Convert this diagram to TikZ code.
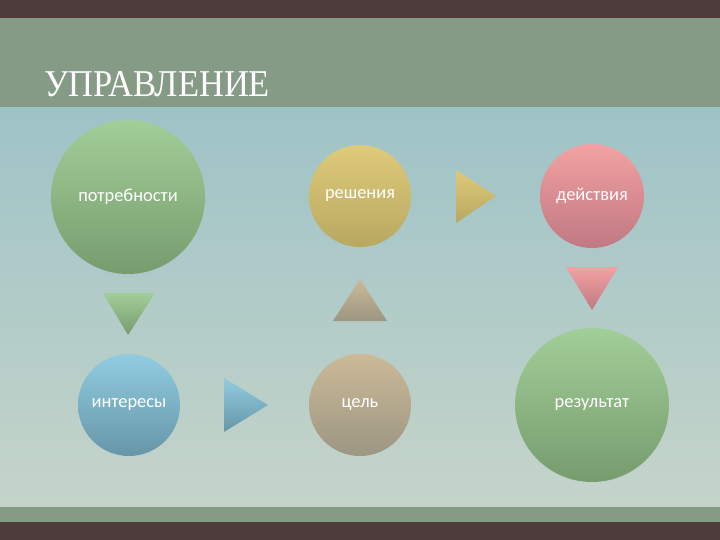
\documentclass[tikz,border=0pt]{standalone}
\usepackage{fontspec}
\setmainfont{Carlito}
\newfontfamily\titlefont{Liberation Serif}
\usepackage{xcolor}

\definecolor{frame}{HTML}{4E3C3D}
\definecolor{band}{HTML}{869B86}
\definecolor{skytop}{HTML}{9EC3C7}
\definecolor{skybot}{HTML}{C5D4C9}
\definecolor{greentop}{HTML}{A2CE98}
\definecolor{greenbot}{HTML}{769C6E}
\definecolor{yellowtop}{HTML}{DECA7A}
\definecolor{yellowbot}{HTML}{B8A860}
\definecolor{pinktop}{HTML}{F2A2A2}
\definecolor{pinkbot}{HTML}{C07882}
\definecolor{bluetop}{HTML}{92CCE0}
\definecolor{bluebot}{HTML}{6696A8}
\definecolor{tantop}{HTML}{CCBA98}
\definecolor{tanbot}{HTML}{9C9682}

\tikzset{
  stage/.style={circle, inner sep=0pt, minimum size=#1, text=white,
    font=\fontsize{18.5}{22}\selectfont},
  greenball/.style={top color=greentop, bottom color=greenbot},
  yellowball/.style={top color=yellowtop, bottom color=yellowbot},
  pinkball/.style={top color=pinktop, bottom color=pinkbot},
  blueball/.style={top color=bluetop, bottom color=bluebot},
  tanball/.style={top color=tantop, bottom color=tanbot}
}

\begin{document}
\begin{tikzpicture}[x=1bp, y=-1bp]
% background
\useasboundingbox (0,0) rectangle (720,540);
\fill [frame] (0,0) rectangle (720,540);
\fill [band] (0,18) rectangle (720,522);
\shade [top color=skytop, bottom color=skybot] (0,108) rectangle (720,506);
\node [anchor=base west, text=white, font=\titlefont\fontsize{38}{40}\selectfont, xscale=0.91, inner sep=0pt]
  (title) at (44,97) {УПРАВЛЕНИЕ};

% circles
\node [stage=154bp, greenball] (needs) at (128,197) {потребности};
\node [stage=102bp, yellowball] (decisions) at (360,196) {решения};
\node [stage=104bp, pinkball] (actions) at (592,196) {действия};
\node [stage=102bp, blueball] (interests) at (129,405) {интересы};
\node [stage=102bp, tanball] (goal) at (360,405) {цель};
\node [stage=154bp, greenball] (result) at (592,405) {результат};

% arrows
\shade [greenball] (103,293) -- (155,293) -- (128,335) -- cycle;
\shade [blueball] (224,378) -- (268,405) -- (224,432) -- cycle;
\shade [tanball] (333,321) -- (360,279) -- (387,321) -- cycle;
\shade [yellowball] (456,170) -- (496,196) -- (456,223) -- cycle;
\shade [pinkball] (566,267) -- (618,267) -- (592,310) -- cycle;
\end{tikzpicture}
\end{document}
